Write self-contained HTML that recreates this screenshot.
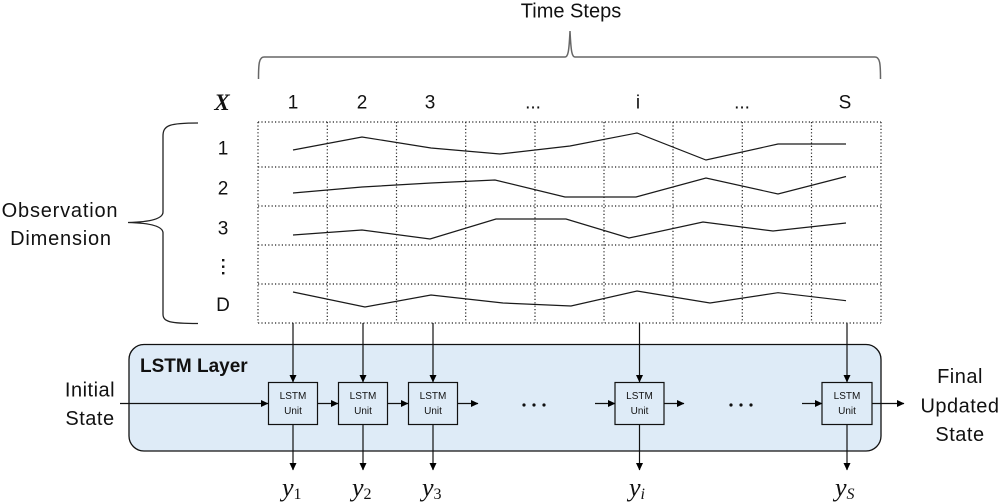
<!DOCTYPE html>
<html>
<head>
<meta charset="utf-8">
<style>
  html,body{margin:0;padding:0;background:#fff;}
  svg{display:block;}
  .s{font-family:"Liberation Sans",sans-serif;fill:#111;}
</style>
</head>
<body>
<svg width="1006" height="503" viewBox="0 0 1006 503" xmlns="http://www.w3.org/2000/svg">
  <defs>
    <marker id="ah" markerWidth="8" markerHeight="8" refX="7" refY="4" orient="auto" markerUnits="userSpaceOnUse">
      <path d="M0,0.5 L7.5,4 L0,7.5 Z" fill="#000"/>
    </marker>
  </defs>

  <!-- Time Steps -->
  <text class="s" x="571" y="17.5" font-size="20" text-anchor="middle">Time Steps</text>
  <path d="M258.5,79 C258.5,64 259,57 264,57 L565,57 C568,57 569,52 570,31 C571,52 572,57 575,57 L875,57 C880,57 880.5,64 880.5,79" fill="none" stroke="#666" stroke-width="1.5"/>

  <!-- column labels -->
  <text x="222" y="110" font-family="Liberation Serif,serif" font-style="italic" font-weight="bold" font-size="23" text-anchor="middle" fill="#111">X</text>
  <g class="s" font-size="19" text-anchor="middle">
    <text x="293" y="108.5">1</text>
    <text x="362" y="108.5">2</text>
    <text x="430" y="108.5">3</text>
    <text x="533" y="108.5">...</text>
    <text x="638" y="108.5">i</text>
    <text x="742" y="108.5">...</text>
    <text x="845" y="108.5">S</text>
  </g>

  <!-- row labels -->
  <g class="s" font-size="19" text-anchor="middle">
    <text x="223" y="154.5">1</text>
    <text x="223" y="194.5">2</text>
    <text x="223" y="234.5">3</text>
    <text x="223" y="311">D</text>
  </g>
  <g fill="#111">
    <rect x="222" y="259" width="2.4" height="2.4"/>
    <rect x="222" y="265.5" width="2.4" height="2.4"/>
    <rect x="222" y="272" width="2.4" height="2.4"/>
  </g>

  <!-- Observation Dimension -->
  <text class="s" x="60" y="217" font-size="20" letter-spacing="0.8" text-anchor="middle">Observation</text>
  <text class="s" x="61" y="245" font-size="20" letter-spacing="0.8" text-anchor="middle">Dimension</text>
  <path d="M198,123 C170,123 163,125 163,136 L163,212 C163,219 150,222 128,222.5 C150,223 163,226 163,233 L163,314 C163,322 170,323.5 198,323.5" fill="none" stroke="#222" stroke-width="1.3"/>

  <!-- dotted grid -->
  <g stroke="#222" stroke-width="1.2" stroke-dasharray="1.2 2.2" fill="none">
    <line x1="258" y1="122" x2="881" y2="122"/>
    <line x1="258" y1="167" x2="881" y2="167"/>
    <line x1="258" y1="206" x2="881" y2="206"/>
    <line x1="258" y1="245" x2="881" y2="245"/>
    <line x1="258" y1="284" x2="881" y2="284"/>
    <line x1="258" y1="323" x2="881" y2="323"/>
    <line x1="258" y1="122" x2="258" y2="323"/>
    <line x1="327.3" y1="122" x2="327.3" y2="323"/>
    <line x1="396.5" y1="122" x2="396.5" y2="323"/>
    <line x1="465.7" y1="122" x2="465.7" y2="323"/>
    <line x1="535" y1="122" x2="535" y2="323"/>
    <line x1="604" y1="122" x2="604" y2="323"/>
    <line x1="673" y1="122" x2="673" y2="323"/>
    <line x1="742.3" y1="122" x2="742.3" y2="323"/>
    <line x1="811.5" y1="122" x2="811.5" y2="323"/>
    <line x1="881" y1="122" x2="881" y2="323"/>
  </g>

  <!-- series -->
  <g fill="none" stroke="#1a1a1a" stroke-width="1.2">
    <polyline points="293,150 362,137 431,148 500,154 570,146 637,133 706,160 778,144 846,144"/>
    <polyline points="293,193 362,187 431,183 495,180 565,197 636,197 706,178 778,194 846,176.5"/>
    <polyline points="293,235 362,230 430,239 496,219 566,219 629,238 703,222 773,231 846,223"/>
    <polyline points="293,292 365,307 431,295 503,303 571,306 637,291 710,303 778,292.7 846,300.7"/>
  </g>

  <!-- LSTM layer -->
  <rect x="129" y="344.5" width="752" height="106.5" rx="15" ry="15" fill="#deebf7" stroke="#111" stroke-width="1.3"/>
  <text x="140" y="372" font-family="Liberation Sans,sans-serif" font-weight="bold" font-size="19" fill="#111">LSTM Layer</text>

  <!-- vertical input arrows -->
  <g stroke="#111" stroke-width="1.2" marker-end="url(#ah)">
    <line x1="293" y1="323" x2="293" y2="382"/>
    <line x1="363" y1="323" x2="363" y2="382"/>
    <line x1="433" y1="323" x2="433" y2="382"/>
    <line x1="639.5" y1="323" x2="639.5" y2="382"/>
    <line x1="847" y1="323" x2="847" y2="382"/>
  </g>

  <!-- units -->
  <g fill="#deebf7" stroke="#111" stroke-width="1.2">
    <rect x="268.5" y="382.5" width="49" height="42"/>
    <rect x="338.5" y="382.5" width="49" height="42"/>
    <rect x="408.5" y="382.5" width="49" height="42"/>
    <rect x="615" y="382.5" width="49" height="42"/>
    <rect x="822" y="382.5" width="50" height="42"/>
  </g>
  <g class="s" font-size="10" text-anchor="middle" fill="#222">
    <text x="293" y="399">LSTM</text><text x="293" y="414">Unit</text>
    <text x="363" y="399">LSTM</text><text x="363" y="414">Unit</text>
    <text x="433" y="399">LSTM</text><text x="433" y="414">Unit</text>
    <text x="639.5" y="399">LSTM</text><text x="639.5" y="414">Unit</text>
    <text x="847" y="399">LSTM</text><text x="847" y="414">Unit</text>
  </g>

  <!-- horizontal arrows -->
  <g stroke="#111" stroke-width="1.2" marker-end="url(#ah)">
    <line x1="120" y1="403.5" x2="268" y2="403.5"/>
    <line x1="318" y1="403.5" x2="338" y2="403.5"/>
    <line x1="388" y1="403.5" x2="408" y2="403.5"/>
    <line x1="458" y1="403.5" x2="478" y2="403.5"/>
    <line x1="595" y1="403.5" x2="615" y2="403.5"/>
    <line x1="664" y1="403.5" x2="684" y2="403.5"/>
    <line x1="802" y1="403.5" x2="822" y2="403.5"/>
    <line x1="872" y1="403.5" x2="904" y2="403.5"/>
  </g>

  <!-- ellipsis dots -->
  <g fill="#111">
    <circle cx="524" cy="405" r="1.6"/><circle cx="534" cy="405" r="1.6"/><circle cx="544" cy="405" r="1.6"/>
    <circle cx="731" cy="405" r="1.6"/><circle cx="741" cy="405" r="1.6"/><circle cx="751" cy="405" r="1.6"/>
  </g>

  <!-- output arrows -->
  <g stroke="#111" stroke-width="1.2" marker-end="url(#ah)">
    <line x1="293" y1="424.5" x2="293" y2="470"/>
    <line x1="363" y1="424.5" x2="363" y2="470"/>
    <line x1="433" y1="424.5" x2="433" y2="470"/>
    <line x1="639.5" y1="424.5" x2="639.5" y2="470"/>
    <line x1="847" y1="424.5" x2="847" y2="470"/>
  </g>

  <!-- outputs -->
  <g font-family="Liberation Serif,serif" fill="#111" font-size="26">
    <text x="282" y="496"><tspan font-style="italic">y</tspan><tspan font-size="16" dy="3">1</tspan></text>
    <text x="352" y="496"><tspan font-style="italic">y</tspan><tspan font-size="16" dy="3">2</tspan></text>
    <text x="422" y="496"><tspan font-style="italic">y</tspan><tspan font-size="16" dy="3">3</tspan></text>
    <text x="629" y="496"><tspan font-style="italic">y</tspan><tspan font-size="16" dy="3" font-style="italic">i</tspan></text>
    <text x="835" y="496"><tspan font-style="italic">y</tspan><tspan font-size="16" dy="3" font-style="italic">S</tspan></text>
  </g>

  <!-- Initial State -->
  <text class="s" x="90" y="396.5" font-size="20" letter-spacing="0.5" text-anchor="middle">Initial</text>
  <text class="s" x="90" y="425" font-size="20" letter-spacing="0.5" text-anchor="middle">State</text>

  <!-- Final Updated State -->
  <text class="s" x="960" y="383" font-size="20" letter-spacing="0.5" text-anchor="middle">Final</text>
  <text class="s" x="960" y="412.5" font-size="20" letter-spacing="0.5" text-anchor="middle">Updated</text>
  <text class="s" x="960" y="441" font-size="20" letter-spacing="0.5" text-anchor="middle">State</text>
</svg>
</body>
</html>
